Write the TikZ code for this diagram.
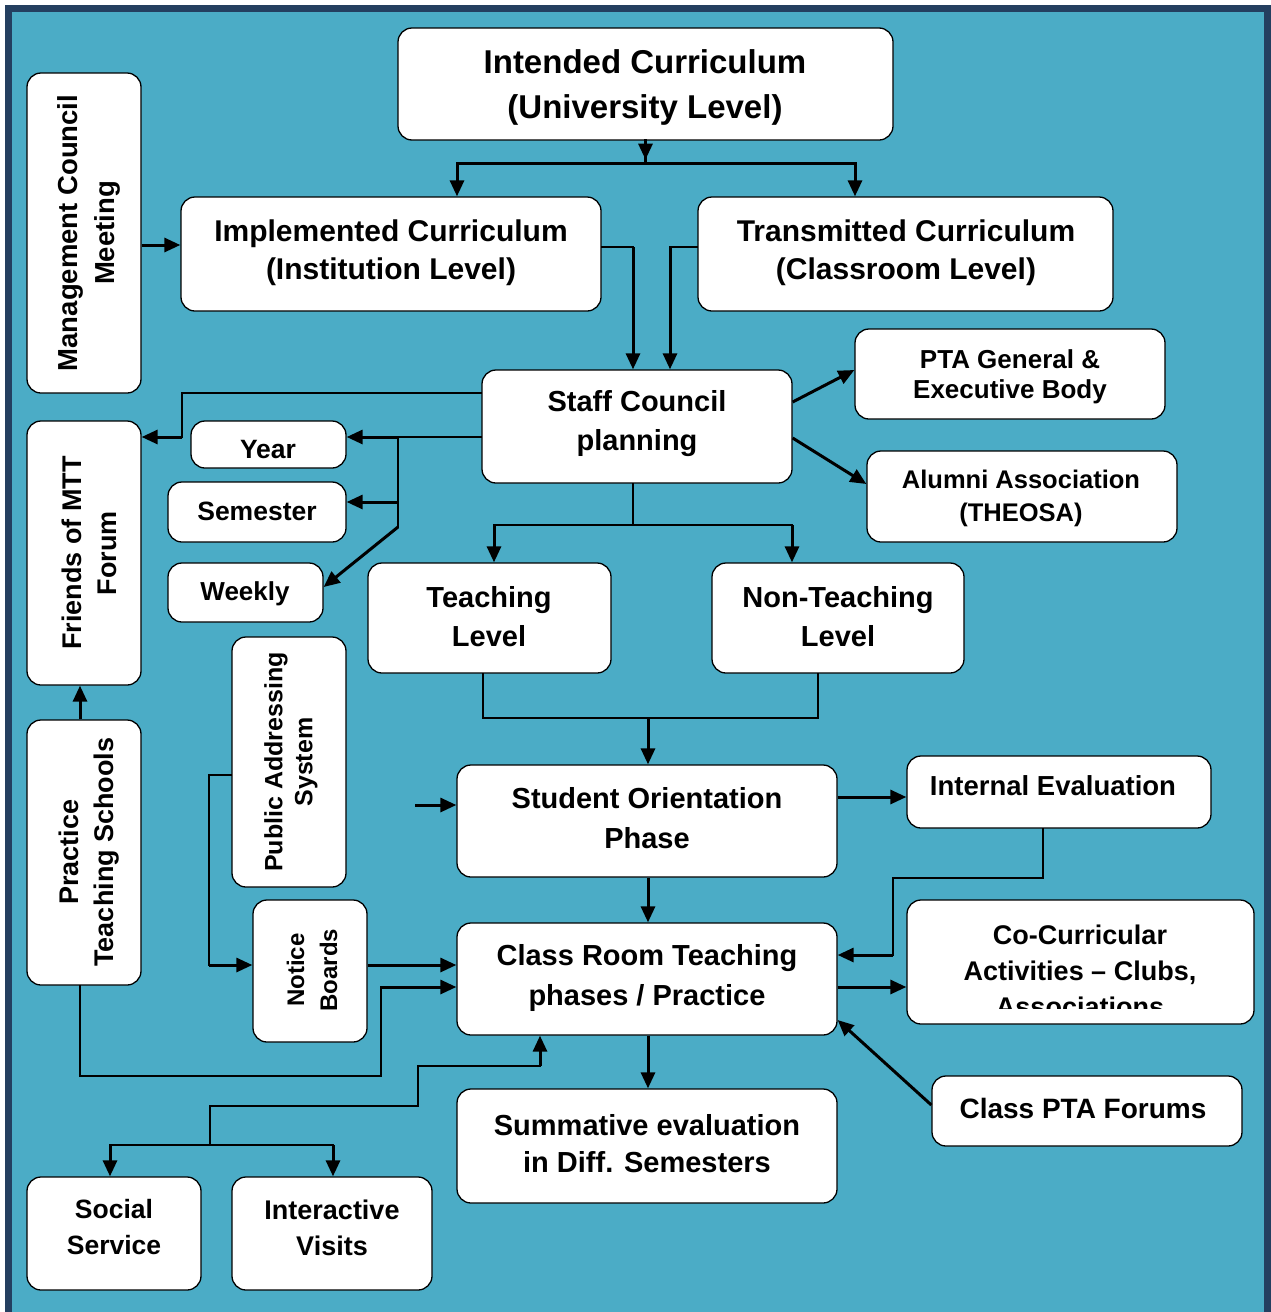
\documentclass[tikz,border=0pt]{standalone}
\usepackage{fontspec}
\setmainfont{Liberation Sans}
\usetikzlibrary{arrows.meta}
\definecolor{teal1}{HTML}{4BACC6}
\definecolor{navy1}{HTML}{243F60}
\newcommand\mybox[5]{%
  \pgfmathsetmacro\mbW{#4-#2}\pgfmathsetmacro\mbH{#5-#3}%
  \pgfmathsetmacro\mbX{(#2+#4)/2}\pgfmathsetmacro\mbY{(#3+#5)/2}%
  \node[box, minimum width=\mbW pt, minimum height=\mbH pt] (#1) at (\mbX,\mbY) {};}
\begin{document}
\begin{tikzpicture}[x=1pt,y=-1pt,
  box/.style={draw=black, line width=1.3pt, fill=white, rounded corners=14pt, inner sep=0pt},
  txt/.style={align=center, inner sep=0pt, yshift=-3.5pt},
  rtxt/.style={align=center, inner sep=0pt, rotate=90},
  fs/.style 2 args={font=\fontsize{#1}{#2}\selectfont\bfseries},
  arr/.style={line width=3pt, -{Triangle[length=16pt,width=14pt]}},
  thk/.style={line width=3pt, line cap=rect},
  thn/.style={line width=1.5pt, line cap=rect}]
\useasboundingbox (0,0) rectangle (1271,1312);
\fill[white] (0,0) rectangle (1271,1312);
\fill[navy1] (5,5) rectangle (1271,1312);
\fill[teal1] (12,12) rectangle (1264,1312);

% helper coordinates
\foreach \v in {163,245,247,370,393,402,437,438,484,502,525,527,587,718,775,797,805,878,955,965,987,1020,1066,1076,1105,1106,1145}
  \coordinate (y\v) at (0,\v);
\foreach \v in {80,110,182,209,210,333,381,398,415,418,457,483,494,540,633,648,670,792,818,855,893,1043}
  \coordinate (x\v) at (\v,0);

% boxes
\mybox{intended}{398}{28}{893}{140}
\mybox{mgmt}{27}{73}{141}{393}
\mybox{impl}{181}{197}{601}{311}
\mybox{trans}{698}{197}{1113}{311}
\mybox{staff}{482}{370}{792}{483}
\mybox{pta}{855}{329}{1165}{419}
\mybox{alumni}{867}{451}{1177}{542}
\mybox{friends}{27}{421}{141}{685}
\mybox{year}{191}{421}{346}{468}
\mybox{sem}{168}{482}{346}{542}
\mybox{weekly}{168}{563}{323}{622}
\mybox{teach}{368}{563}{611}{673}
\mybox{nonteach}{712}{563}{964}{673}
\mybox{pa}{232}{637}{346}{887}
\mybox{practice}{27}{720}{141}{985}
\mybox{student}{457}{765}{837}{877}
\mybox{internal}{907}{756}{1211}{828}
\mybox{notice}{253}{900}{367}{1042}
\mybox{classroom}{457}{923}{837}{1035}
\mybox{cocurr}{907}{900}{1254}{1024}
\mybox{ptaf}{932}{1076}{1242}{1146}
\mybox{summ}{457}{1089}{837}{1203}
\mybox{social}{27}{1177}{201}{1290}
\mybox{inter}{232}{1177}{432}{1290}

% texts
\node[txt, fs={33}{45}] (intended-t) at (645,84) {Intended Curriculum\\(University Level)};
\node[rtxt, fs={27.5}{37}] (mgmt-t) at (89,233) {Management Council\\Meeting};
\node[txt, fs={30}{38}] (impl-t) at (391,249) {Implemented Curriculum\\(Institution Level)};
\node[txt, fs={30}{38}] (trans-t) at (906,249) {Transmitted Curriculum\\(Classroom Level)};
\node[txt, fs={29}{39}] (staff-t) at (637,420) {Staff Council\\planning};
\node[txt, fs={26}{30}] (pta-t) at (1010,373) {PTA General \&\\Executive Body};
\node[txt, fs={25.5}{33}] (alumni-t) at (1021,495) {Alumni Association\\(THEOSA)};
\node[rtxt, fs={27}{35}] (friends-t) at (89,553) {Friends of MTT\\Forum};
\node[txt, fs={26.5}{30}] (year-t) at (268,446) {Year};
\node[txt, fs={26.5}{30}] (sem-t) at (257,508) {Semester};
\node[txt, fs={26}{30}] (weekly-t) at (245,590) {Weekly};
\node[txt, fs={29}{39}] (teach-t) at (489,613) {Teaching\\Level};
\node[txt, fs={29}{39}] (nonteach-t) at (838,613) {Non-Teaching\\Level};
\node[rtxt, fs={25}{30}] (pa-t) at (291,762) {Public Addressing\\System};
\node[rtxt, fs={27}{35}] (practice-t) at (89,852) {Practice\\Teaching Schools};
\node[txt, fs={29}{40}] (student-t) at (647,815) {Student Orientation\\Phase};
\node[txt, fs={27.5}{32}] (internal-t) at (1053,782) {Internal Evaluation};
\node[rtxt, fs={24}{33}] (notice-t) at (312,970) {Notice\\Boards};
\node[txt, fs={29}{40}] (classroom-t) at (647,974) {Class Room Teaching\\phases / Practice};
\begin{scope}
  \clip (907,900) rectangle (1254,1008);
  \node[txt, fs={27}{36}] (cocurr-t) at (1080,967) {Co-Curricular\\Activities -- Clubs,\\Associations};
\end{scope}
\node[txt, fs={28}{32}] (ptaf-t) at (1083,1105) {Class PTA Forums};
\node[txt, fs={29}{37}] (summ-t) at (647,1140) {Summative evaluation\\in Diff. Semesters};
\node[txt, fs={26.5}{36}] (social-t) at (114,1224) {Social\\Service};
\node[txt, fs={27}{36}] (inter-t) at (332,1224) {Interactive\\Visits};

% connectors
\draw[thk] (intended.south) -- (intended.south |- y163);
\draw[arr] (intended.south) -- ++(0,19);
\draw[thk] (x457 |- y163) -- (x855 |- y163);
\draw[arr] (x457 |- y163) -- (x457 |- impl.north);
\draw[arr] (x855 |- y163) -- (x855 |- trans.north);

\draw[arr] (mgmt.east |- y245) -- (impl.west |- y245);

\draw[thn] (impl.east |- y247) -- (x633 |- y247);
\draw[arr] (x633 |- y247) -- (x633 |- staff.north);
\draw[thn] (trans.west |- y247) -- (x670 |- y247);
\draw[arr] (x670 |- y247) -- (x670 |- staff.north);

\draw[arr] (staff.east |- y402) -- (pta.west |- y370);
\draw[arr] (staff.east |- y438) -- (alumni.west |- y484);

\draw[thn] (staff.west |- y393) -- (x182 |- y393) -- (x182 |- y437);
\draw[arr] (x182 |- y437) -- (friends.east |- y437);

\draw[thn] (staff.west |- y437) -- (x398 |- y437);
\draw[thn] (x398 |- y437) -- (x398 |- y527);
\draw[arr] (x398 |- y437) -- (year.east |- y437);
\draw[arr] (x398 |- y502) -- (sem.east |- y502);
\draw[arr] (x398 |- y527) -- (weekly.east |- y587);

\draw[thn] (x633 |- staff.south) -- (x633 |- y525);
\draw[thn] (x494 |- y525) -- (x792 |- y525);
\draw[arr] (x494 |- y525) -- (x494 |- teach.north);
\draw[arr] (x792 |- y525) -- (x792 |- nonteach.north);

\draw[thn] (x483 |- teach.south) -- (x483 |- y718) -- (x818 |- y718) -- (x818 |- nonteach.south);
\draw[arr] (x648 |- y718) -- (x648 |- student.north);

\draw[arr] (x415 |- y805) -- (student.west |- y805);
\draw[arr] (student.east |- y797) -- (internal.west |- y797);
\draw[arr] (x648 |- student.south) -- (x648 |- classroom.north);

\draw[thn] (x1043 |- internal.south) -- (x1043 |- y878) -- (x893 |- y878) -- (x893 |- y955);
\draw[arr] (x893 |- y955) -- (classroom.east |- y955);
\draw[arr] (classroom.east |- y987) -- (cocurr.west |- y987);
\draw[arr] (ptaf.west |- y1105) -- (classroom.east |- y1020);
\draw[arr] (x648 |- classroom.south) -- (x648 |- summ.north);

\draw[thn] (pa.west |- y775) -- (x209 |- y775) -- (x209 |- y965);
\draw[arr] (x209 |- y965) -- (notice.west |- y965);
\draw[arr] (notice.east |- y965) -- (classroom.west |- y965);

\draw[thn] (x80 |- practice.south) -- (x80 |- y1076) -- (x381 |- y1076) -- (x381 |- y987);
\draw[arr] (x381 |- y987) -- (classroom.west |- y987);
\draw[arr] (x80 |- practice.north) -- (x80 |- friends.south);

\draw[thn] (x110 |- y1145) -- (x333 |- y1145);
\draw[arr] (x110 |- y1145) -- (x110 |- social.north);
\draw[arr] (x333 |- y1145) -- (x333 |- inter.north);
\draw[thn] (x210 |- y1145) -- (x210 |- y1106) -- (x418 |- y1106) -- (x418 |- y1066) -- (x540 |- y1066);
\draw[arr] (x540 |- y1066) -- (x540 |- classroom.south);
\end{tikzpicture}
\end{document}
